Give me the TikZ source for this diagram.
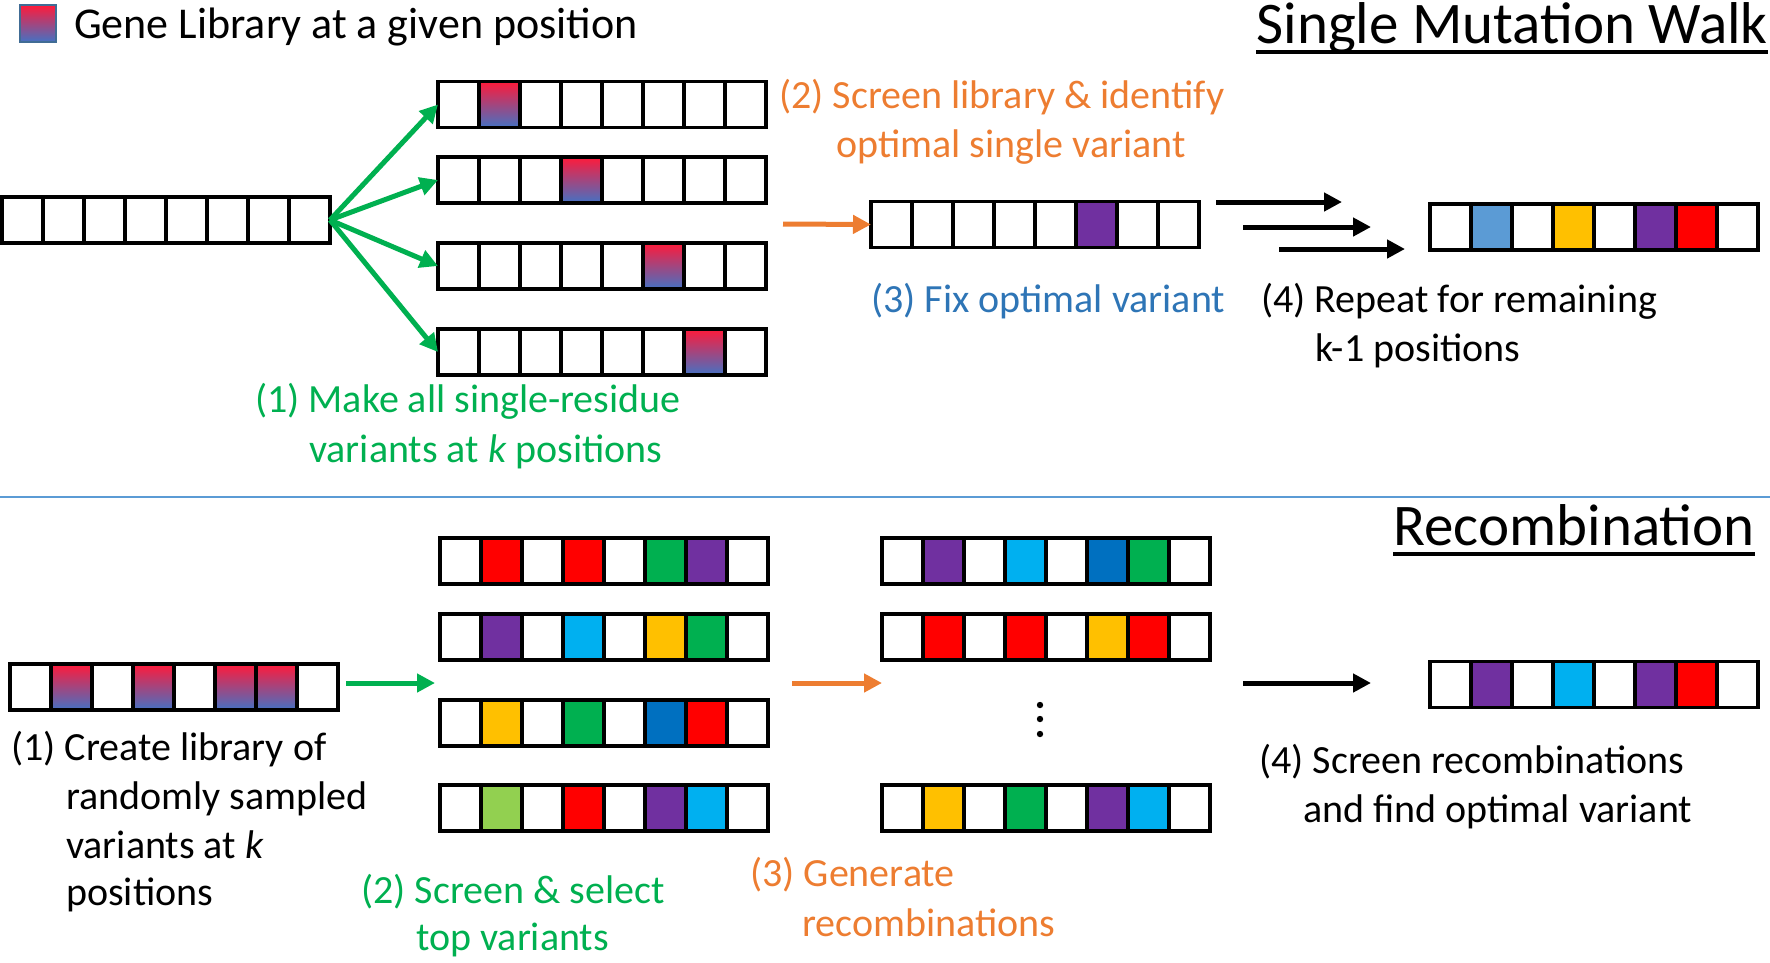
\documentclass[tikz,border=0pt]{standalone}
\usepackage{fontspec}
\setmainfont{Carlito}
\usetikzlibrary{arrows.meta,positioning,calc}

\definecolor{cGreen}{HTML}{00B050}
\definecolor{cOrange}{HTML}{ED7D31}
\definecolor{cBlueTxt}{HTML}{2E75B6}
\definecolor{cPurple}{HTML}{7030A0}
\definecolor{cRed}{HTML}{FF0000}
\definecolor{cYellow}{HTML}{FFC000}
\definecolor{cCyan}{HTML}{00B0F0}
\definecolor{cDkBlue}{HTML}{0070C0}
\definecolor{cLtBlue}{HTML}{5B9BD5}
\definecolor{cLtGreen}{HTML}{92D050}
\definecolor{libTop}{HTML}{FF1A3A}
\definecolor{libBot}{HTML}{4472C4}

\tikzset{
  cell/.style={draw, line width=3.5pt, minimum width=41pt, minimum height=46pt,
    inner sep=0pt, outer sep=0pt},
  genebox/.style={minimum width=328pt, minimum height=46pt, inner sep=0pt, outer sep=0pt},
  wh/.style={fill=white},
  lib/.style={top color=libTop, bottom color=libBot},
  pu/.style={fill=cPurple},
  rd/.style={fill=cRed},
  yl/.style={fill=cYellow},
  gr/.style={fill=cGreen},
  cy/.style={fill=cCyan},
  db/.style={fill=cDkBlue},
  lb/.style={fill=cLtBlue},
  lg/.style={fill=cLtGreen},
  lbl/.style={anchor=base west, inner sep=0pt, font=\fontsize{40}{48}\selectfont},
  ttl/.style={anchor=base east, inner sep=0pt, font=\fontsize{59}{68}\selectfont},
  arr/.style={line width=5pt, -{Triangle[length=18pt, width=18pt]}},
}

% one gene: name, centre, cell styles
\newcommand{\gene}[3]{%
  \node[genebox] (#1) at (#2) {};
  \foreach \c [count=\i from 0] in {#3}
    \node[cell, \c] (#1-\i) at ($(#1.west)+(20.5+41*\i,0)$) {};
}

\begin{document}
\begin{tikzpicture}[x=1pt, y=-1pt]
  \useasboundingbox (0,0) rectangle (1770,962);

  % legend and titles
  \node[lib, draw=cLtBlue!70!black, line width=1.5pt, minimum width=36pt,
    minimum height=37pt, inner sep=0pt] (key) at (38,23.5) {};
  \node[lbl, font=\fontsize{44}{52}\selectfont] (keytxt) at (74,38) {Gene Library at a given position};
  \node[ttl] (walk) at (1768,43) {Single Mutation Walk};
  \draw[line width=3.5pt] ($(walk.base west)+(0,9)$) -- ($(walk.base east)+(0,9)$);

  % single mutation walk
  \gene{wt}{166,220}{wh,wh,wh,wh,wh,wh,wh,wh}
  \gene{v1}{602,104.5}{wh,lib,wh,wh,wh,wh,wh,wh}
  \gene{v2}{602,180}{wh,wh,wh,lib,wh,wh,wh,wh}
  \gene{v3}{602,266}{wh,wh,wh,wh,wh,lib,wh,wh}
  \gene{v4}{602,352}{wh,wh,wh,wh,wh,wh,lib,wh}
  \gene{fix}{1035,224.5}{wh,wh,wh,wh,wh,pu,wh,wh}
  \gene{best}{1594,227}{wh,lb,wh,yl,wh,pu,rd,wh}

  \foreach \v in {v1,v2,v3,v4}
    \draw[arr, cGreen] (wt.east) -- (\v.west);

  \coordinate (scr) at (783,224);
  \draw[arr, cOrange] (scr) -- (fix.west);

  \coordinate (ra1) at (1216,202);  \coordinate (rb1) at (1342,202);
  \coordinate (ra2) at (1243,227);  \coordinate (rb2) at (1371,227);
  \coordinate (ra3) at (1279,249);  \coordinate (rb3) at (1405,249);
  \foreach \i in {1,2,3}
    \draw[arr] (ra\i) -- (rb\i);

  \node[lbl, text=cGreen] (s1a) at (255,412) {(1) Make all single-residue};
  \node[lbl, text=cGreen] (s1b) at (309,462) {variants at \textit{k} positions};
  \node[lbl, text=cOrange] (s2a) at (779,108) {(2) Screen library \& identify};
  \node[lbl, text=cOrange] (s2b) at (836,157) {optimal single variant};
  \node[lbl, text=cBlueTxt] (s3) at (871,312) {(3) Fix optimal variant};
  \node[lbl] (s4a) at (1261,312) {(4) Repeat for remaining};
  \node[lbl] (s4b) at (1315,361) {k-1 positions};

  % separator
  \draw[cLtBlue, line width=1.5pt] (0,497) -- (1770,497);

  % recombination
  \node[ttl] (recomb) at (1755,545) {Recombination};
  \draw[line width=3.5pt] ($(recomb.base west)+(0,9)$) -- ($(recomb.base east)+(0,9)$);

  \gene{rand}{174,687}{wh,lib,wh,lib,wh,lib,lib,wh}
  \gene{t1}{604,561}{wh,rd,wh,rd,wh,gr,pu,wh}
  \gene{t2}{604,637}{wh,pu,wh,cy,wh,yl,gr,wh}
  \gene{t3}{604,723}{wh,yl,wh,gr,wh,db,rd,wh}
  \gene{t4}{604,808}{wh,lg,wh,rd,wh,pu,cy,wh}
  \gene{m1}{1046,561}{wh,pu,wh,cy,wh,db,gr,wh}
  \gene{m2}{1046,637}{wh,rd,wh,rd,wh,yl,rd,wh}
  \gene{m3}{1046,808}{wh,yl,wh,gr,wh,pu,cy,wh}
  \gene{opt}{1594,684.5}{wh,pu,wh,cy,wh,pu,rd,wh}

  \foreach \y in {705,719,734}
    \fill (1040,\y) circle (3.2pt);

  \coordinate (ga) at (346,683);   \coordinate (gb) at (435,683);
  \coordinate (oa) at (792,683);   \coordinate (ob) at (882,683);
  \coordinate (ka) at (1243,683);  \coordinate (kb) at (1371,683);
  \draw[arr, cGreen] (ga) -- (gb);
  \draw[arr, cOrange] (oa) -- (ob);
  \draw[arr] (ka) -- (kb);

  \node[lbl] (c1a) at (11,760) {(1) Create library of};
  \node[lbl] (c1b) at (66,809) {randomly sampled};
  \node[lbl] (c1c) at (66,858) {variants at \textit{k}};
  \node[lbl] (c1d) at (66,905) {positions};
  \node[lbl, text=cGreen] (c2a) at (361,903) {(2) Screen \& select};
  \node[lbl, text=cGreen] (c2b) at (416,950) {top variants};
  \node[lbl, text=cOrange] (c3a) at (750,886) {(3) Generate};
  \node[lbl, text=cOrange] (c3b) at (802,936) {recombinations};
  \node[lbl] (c4a) at (1259,773) {(4) Screen recombinations};
  \node[lbl] (c4b) at (1303,822) {and find optimal variant};
\end{tikzpicture}
\end{document}
